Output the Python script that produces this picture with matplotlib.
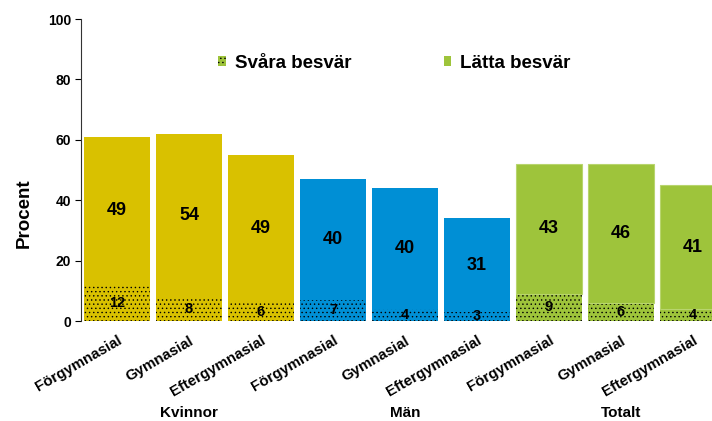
import matplotlib.pyplot as plt
from matplotlib.patches import Patch

plt.rcParams['font.family'] = ['Liberation Sans', 'DejaVu Sans']
plt.rcParams['font.weight'] = 'bold'
plt.rcParams['hatch.linewidth'] = 0.5

# Andel med besvär per utbildningsnivå, uppdelat på svåra och lätta besvär
utbildning = ['Förgymnasial', 'Gymnasial', 'Eftergymnasial'] * 3
grupper = ['Kvinnor', 'Män', 'Totalt']
svara = [12, 8, 6, 7, 4, 3, 9, 6, 4]
latta = [49, 54, 49, 40, 40, 31, 43, 46, 41]
farger = ['#D9C100'] * 3 + ['#008FD5'] * 3 + ['#9EC43B'] * 3

fig = plt.figure(figsize=(7.12, 4.21), dpi=100)
ax = fig.add_axes([0.1138, 0.2375, 0.910, 0.7173])

x = list(range(len(svara)))
ax.bar(x, svara, width=0.92, color=farger, edgecolor='black', linewidth=0, hatch='....')
kanter = ['none'] * 6 + ['#B8D56E'] * 3
ax.bar(x, latta, width=0.92, bottom=svara, color=farger, edgecolor=kanter, linewidth=0.8)

for i in x:
    ax.text(i, svara[i] / 2, str(svara[i]), ha='center', va='center', fontsize=10.5, fontweight='bold')
    ax.text(i, svara[i] + latta[i] / 2, str(latta[i]), ha='center', va='center', fontsize=13, fontweight='bold')

ax.set_xlim(-0.5, 8.5)
ax.set_ylim(0, 100)
ax.set_yticks(range(0, 101, 20))
ax.set_xticks(x)
ax.set_xticklabels(utbildning, rotation=30, ha='right', rotation_mode='anchor', fontsize=10.8)
ax.tick_params(axis='x', length=0, pad=9)
ax.tick_params(axis='y', direction='out', length=4, width=0.8, labelsize=10, pad=3)
for side in ['top', 'right', 'bottom']:
    ax.spines[side].set_visible(False)
ax.spines['left'].set_linewidth(0.8)
ax.spines['left'].set_color('#333333')
ax.set_ylabel('Procent', fontsize=13.5, fontweight='bold')
ax.yaxis.set_label_coords(-0.075, 0.358)

for i, namn in enumerate(grupper):
    ax.text(1 + 3 * i, -0.305, namn, transform=ax.get_xaxis_transform(),
            ha='center', va='center', fontsize=11, fontweight='bold')

handles = [Patch(facecolor='#9EC43B', edgecolor='black', linewidth=0, hatch='....', label='Svåra besvär'),
           Patch(facecolor='#9EC43B', edgecolor='none', label='Lätta besvär')]
fig.legend(handles=handles, loc='center', bbox_to_anchor=(394.5 / 712, 1 - 63 / 421), ncol=2,
           frameon=False, fontsize=13.5, handlelength=0.4, handleheight=0.4,
           handletextpad=0.5, columnspacing=4.9)

fig.savefig('out.png', dpi=100)
